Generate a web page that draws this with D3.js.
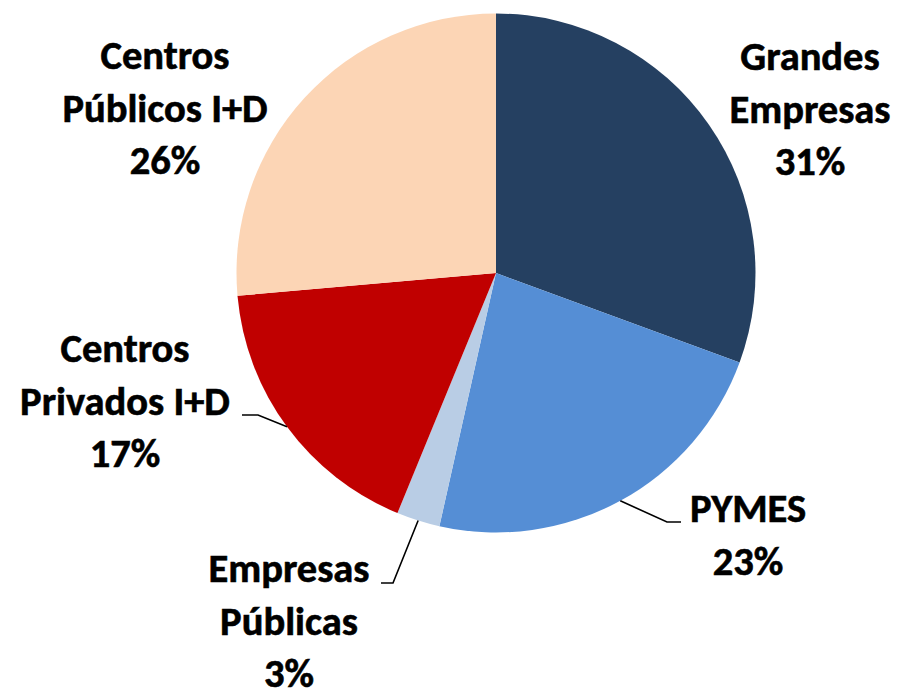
<!DOCTYPE html>
<html>
<head>
<meta charset="utf-8">
<script src="https://cdn.jsdelivr.net/npm/d3@7"></script>
<style>
  html, body { margin: 0; padding: 0; background: #fff; }
  svg { display: block; }
  text { font-family: Carlito, Calibri, Lato, sans-serif; font-weight: 700; fill: #000; stroke: #000; stroke-width: 0.6; }
</style>
</head>
<body>
<svg id="chart" width="904" height="692"></svg>
<script>
// ---- data ----
const categories = ["Grandes Empresas", "PYMES", "Empresas Públicas", "Centros Privados I+D", "Centros Públicos I+D"];
const values = [30.6, 22.9, 2.7, 17.4, 26.4];
const labelLines = [
  ["Grandes", "Empresas"],
  ["PYMES"],
  ["Empresas", "Públicas"],
  ["Centros", "Privados I+D"],
  ["Centros", "Públicos I+D"]
];

// ---- style / layout ----
const colors = ["#254061", "#558ED5", "#B9CDE5", "#C00000", "#FCD5B5"];
const cx = 496, cy = 273, R = 259.5;
const fontSize = 40.5, lineGap = 52.5;
// label anchor (center x, first baseline y) and optional leader (elbow, end)
const labelLayout = [
  { x: 810, y: 70,  leader: null },
  { x: 748, y: 522, leader: { elbow: [667, 522], end: [681, 522] } },
  { x: 289, y: 582, leader: { elbow: [393, 583], end: [381, 583] } },
  { x: 125, y: 362, leader: { elbow: [258, 415], end: [242, 415] } },
  { x: 165, y: 69,  leader: null }
];

const svg = d3.select("#chart");
const g = svg.append("g").attr("transform", `translate(${cx},${cy})`);

const total = d3.sum(values);
const data = categories.map((c, i) => ({ name: c, value: values[i], i }));
const pie = d3.pie().value(d => d.value).sort(null).startAngle(0).endAngle(2 * Math.PI);
const arcs = pie(data);
const arc = d3.arc().innerRadius(0).outerRadius(R);

g.selectAll("path.slice")
  .data(arcs)
  .join("path")
  .attr("class", "slice")
  .attr("d", arc)
  .attr("fill", d => colors[d.data.i]);

// leader lines
arcs.forEach(a => {
  const L = labelLayout[a.data.i].leader;
  if (!L) return;
  const mid = (a.startAngle + a.endAngle) / 2;
  const sx = cx + R * Math.sin(mid), sy = cy - R * Math.cos(mid);
  svg.append("polyline")
    .attr("points", [[sx, sy], L.elbow, L.end].map(p => p.join(",")).join(" "))
    .attr("fill", "none")
    .attr("stroke", "#000")
    .attr("stroke-width", 1.6);
});

// labels
arcs.forEach(a => {
  const i = a.data.i;
  const lay = labelLayout[i];
  const pct = Math.round(a.data.value / total * 100) + "%";
  const lines = labelLines[i].concat([pct]);
  const t = svg.append("text")
    .attr("text-anchor", "middle")
    .attr("font-size", fontSize);
  lines.forEach((ln, k) => {
    t.append("tspan").attr("x", lay.x).attr("y", lay.y + k * lineGap).text(ln);
  });
});
</script>
</body>
</html>
